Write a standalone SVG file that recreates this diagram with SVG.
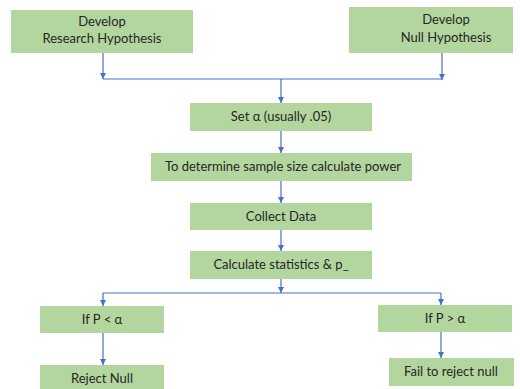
<svg xmlns="http://www.w3.org/2000/svg" width="520" height="389" viewBox="0 0 520 389">
<defs>
<marker id="arr" viewBox="0 0 10 10" refX="10" refY="5" markerWidth="6" markerHeight="6" markerUnits="userSpaceOnUse" orient="auto">
<path d="M0,0 L10,5 L0,10 z" fill="#4472C4"/>
</marker>
<style>
.box{fill:#B3D69E;}
.t{font-family:Lato,"Liberation Sans",sans-serif;font-size:13px;fill:#262626;text-anchor:middle;}
.c{stroke:#4472C4;stroke-width:1.2;fill:none;}
.a{marker-end:url(#arr);}
</style>
</defs>
<rect width="520" height="389" fill="#ffffff"/>
<g id="connectors">
<path class="c a" d="M103,53 V79"/>
<path class="c a" d="M442,53 V80"/>
<path class="c" d="M103,79 H442"/>
<path class="c a" d="M281,79 V103"/>
<path class="c a" d="M281,131 V153"/>
<path class="c a" d="M281,181 V203"/>
<path class="c a" d="M281,230 V251"/>
<path class="c a" d="M281,279 V293"/>
<path class="c" d="M103,293 H441"/>
<path class="c a" d="M103,293 V306"/>
<path class="c a" d="M441,293 V305"/>
<path class="c a" d="M103,333 V365"/>
<path class="c a" d="M441,332 V358"/>
</g>
<g id="research">
<rect class="box" x="11" y="10" width="182" height="43"/>
<text class="t" x="102" y="26">Develop</text>
<text class="t" x="102" y="43">Research Hypothesis</text>
</g>
<g id="null">
<rect class="box" x="349" y="7" width="164" height="46"/>
<text class="t" x="446" y="24">Develop</text>
<text class="t" x="446" y="42">Null Hypothesis</text>
</g>
<g id="alpha">
<rect class="box" x="190" y="103" width="182" height="28"/>
<text class="t" x="281" y="121">Set α (usually .05)</text>
</g>
<g id="power">
<rect class="box" x="151" y="153" width="261" height="28"/>
<text class="t" x="283" y="171">To determine sample size calculate power</text>
</g>
<g id="collect">
<rect class="box" x="190" y="203" width="182" height="27"/>
<text class="t" x="281" y="221">Collect Data</text>
</g>
<g id="calc">
<rect class="box" x="190" y="251" width="182" height="28"/>
<text class="t" x="281" y="269">Calculate statistics &amp; p_</text>
</g>
<g id="pless">
<rect class="box" x="40" y="306" width="124" height="27"/>
<text class="t" x="102" y="324">If P &lt; α</text>
</g>
<g id="reject">
<rect class="box" x="40" y="365" width="124" height="30"/>
<text class="t" x="102" y="383">Reject Null</text>
</g>
<g id="pgreater">
<rect class="box" x="378" y="305" width="134" height="27"/>
<text class="t" x="445" y="323">If P &gt; α</text>
</g>
<g id="fail">
<rect class="box" x="389" y="358" width="125" height="28"/>
<text class="t" x="451" y="376">Fail to reject null</text>
</g>
</svg>
